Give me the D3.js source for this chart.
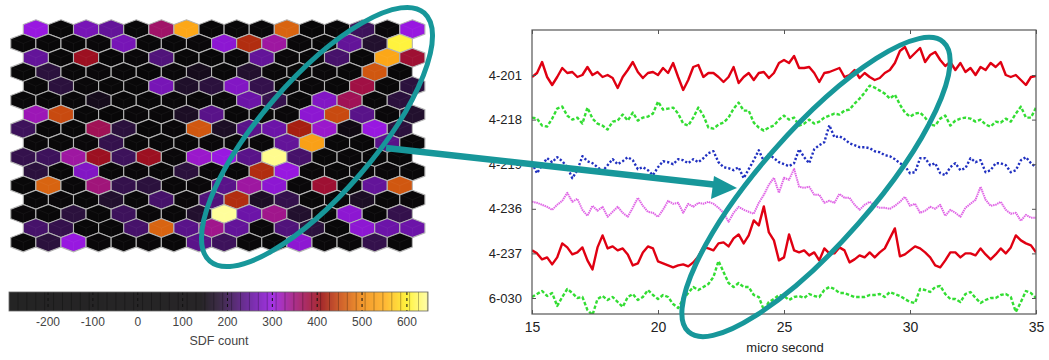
<!DOCTYPE html>
<html>
<head>
<meta charset="utf-8">
<script src="https://cdn.jsdelivr.net/npm/d3@7"></script>
<style>
  body { margin: 0; background: #fff; }
  svg { display: block; font-family: "Liberation Sans", Arial, sans-serif; }
</style>
</head>
<body>
<div id="chart"></div>
<script>
// SDF count per hex cell, 16 rows x 16 columns (first row sits half a cell to the right)
const sdfRows = [
  [300, -40, 270, 250, 60, 360, 540, -120, 30, 90, 470, -80, 40, 210, 110, 300],
  [-20, 50, -150, 80, 270, 10, -60, 100, 290, 430, 330, 70, -30, 250, 180, 610],
  [250, 40, 400, -90, 120, 230, 20, -200, 60, 250, 90, -10, 220, 30, 540, 390],
  [60, 190, -30, 100, 20, -110, 80, 160, 40, 180, 130, -50, 90, 10, 460, -70],
  [-60, 190, 70, 20, -20, 270, 175, 190, 280, 200, 50, 110, -40, 380, 60, 190],
  [30, -80, 120, 160, 40, -30, 100, 10, 80, 260, 200, 60, 280, 370, 40, 190],
  [320, 450, 20, -100, 80, 120, 170, 240, 30, -60, 110, 290, 450, 240, 90, 180],
  [210, 60, -40, 370, 190, 30, 100, 460, 170, 240, 260, 420, 310, 150, 300, 190],
  [80, -20, 110, 200, 40, -70, 60, 130, 10, 90, 250, 530, 50, -30, 240, 70],
  [200, 210, 330, 400, 210, 400, 90, 310, 300, 240, 640, 220, 40, 120, -50, 60],
  [190, 20, 280, -60, 100, 50, 190, 80, 30, 430, 300, 110, -20, 70, 130, 20],
  [40, 470, 90, 350, 200, 190, 60, 120, 240, 330, 290, 70, 390, 100, 250, 460],
  [-30, 110, 50, 180, 20, 220, 90, 230, 430, 170, 200, 60, -90, 170, 40, 100],
  [70, -10, 190, 40, 210, 120, 30, 180, 645, 260, 340, 180, 80, 290, 20, 200],
  [220, 200, 60, -40, 220, 470, 240, 340, 250, 110, 230, 190, 50, 290, 260, 260],
  [20, 190, 300, 80, -20, 130, 60, 240, 210, 100, 30, 290, 120, 70, 200, 40]
];

// colour map of the SDF count (black -> purple -> red -> orange -> yellow)
const colorDomain = [-290, 140, 180, 220, 260, 300, 340, 380, 410, 450, 500, 550, 600, 650];
const colorRange = ['#070707', '#0a080a', '#22102e', '#46126a', '#6c14a8', '#9818e0', '#a0168c',
                    '#a01044', '#9a1010', '#c84a10', '#f08a12', '#ffae1a', '#fff024', '#ffffa8'];
const colorTicks = [-200, -100, 0, 100, 200, 300, 400, 500, 600];

// traces: one sample every 0.2 micro second from 15 to 35
const channels = ['4-201', '4-218', '4-219', '4-236', '4-237', '6-030'];
const channelOffsets = [223, 178.4, 133.8, 89.2, 44.6, 0];
const timeTicks = [15, 20, 25, 30, 35];
const times = d3.range(101).map(i => +(15 + i * 0.2).toFixed(1));

const sig4201 = [
  -2, 2, 13, -2, -10, -2, 7, 2, 3, -2,
  0, 8, 0, 3, -2, 0, -3, -13, -2, 5,
  13, 3, -3, 2, 3, 0, 7, 2, 12, -2,
  -15, -5, 8, 10, -2, 2, 2, -2, -7, -2,
  8, -8, -2, 2, -5, 2, 3, -3, 2, 12,
  15, 12, 19, 7, 7, 8, 2, -7, 2, 3,
  5, 7, -2, 0, 5, -3, 2, -2, -5, -3,
  2, 5, 12, 24, 28, 17, 22, 27, 13, 20,
  23, 15, 9, 13, 5, 12, 3, 7, 0, 8,
  5, 12, 8, 13, 0, -2, 0, -5, -10, -2,
  -1];
const sig4218 = [
  2, 1, -6, -7, 1, 11, 13, 4, 0, 2,
  -4, 12, 1, -4, -6, -10, -2, -1, 5, -1,
  7, -1, 2, 3, 6, 18, 10, 11, 12, 6,
  -4, -6, 2, 12, 4, -8, -9, -5, -3, 2,
  11, 17, 9, 9, -3, -8, -11, -8, -6, 0,
  4, 0, 2, -6, -4, 0, -4, -2, 2, 4,
  6, 5, 9, 10, 16, 21, 27, 34, 32, 29,
  26, 21, 25, 15, 7, 3, 6, 7, 2, -5,
  -6, 1, 4, -6, -1, 1, 2, 1, -2, 0,
  -5, -7, -2, -3, 1, -2, 6, 13, 2, 2,
  12];
const sig4219 = [
  1, -9, -1, 6, 2, 7, 3, -3, -14, -6,
  8, 3, 1, -3, -7, -1, 5, 0, 3, 7,
  4, -5, -3, -6, -11, -3, 3, 2, 0, 5,
  4, 1, 5, 2, 6, 11, 13, 2, -3, -4,
  -6, -3, -14, -5, 4, 14, 3, 10, 6, 2,
  0, -2, 1, 15, 7, 1, 15, 19, 22, 39,
  27, 28, 25, 21, 19, 17, 17, 16, 13, 12,
  9, 8, 5, 1, -2, -9, -8, 6, 6, -1,
  1, -9, -11, -3, 1, -6, -4, 6, 2, 4,
  -8, -6, 1, 1, -1, -8, -6, 4, 7, 1,
  -3];
const sig4236 = [
  7, 6, 4, 2, -1, 4, 8, 16, 7, 10,
  -1, -7, 3, -2, 2, -8, -3, 2, -4, -8,
  1, 11, 3, -3, -4, -8, -1, 8, 5, 6,
  -4, 5, 2, 6, 5, 7, 5, 1, -4, -13,
  -4, 2, -1, -3, -5, 6, 14, 24, 31, 16,
  31, 29, 40, 22, 21, 22, 14, 14, 6, 8,
  6, 15, 11, 11, 4, -1, 4, 7, 3, 1,
  1, 0, 3, 7, 12, 3, 5, -4, -2, 2,
  0, 4, -7, -1, -4, -8, 1, 5, 9, 22,
  9, 3, 4, 7, -1, -5, -4, -12, -6, -9,
  -9];
const sig4237 = [
  3, 0, -6, -4, -11, -4, 10, 6, -1, 1,
  6, -7, -16, 6, 18, 5, 7, 3, 5, -1,
  -12, -10, 1, 7, 5, -8, -10, -12, -14, -12,
  -11, -13, -9, -3, 6, 5, 3, 10, 11, 7,
  15, 19, 10, 18, 33, 28, 47, 21, 13, -7,
  -4, 19, 3, 1, 3, -2, 1, -7, 5, 0,
  0, 6, 3, -9, -6, -2, -4, 1, -4, 1,
  5, 15, 25, -3, -1, 3, 7, 5, 1, -4,
  -12, -14, -7, 1, 1, -4, 0, 0, -2, 5,
  -1, -6, -1, 5, 0, 6, 18, 13, 10, 8,
  1];
const sig6030 = [
  1, 4, 7, 2, 5, -8, 1, 9, 5, 0,
  1, -12, -17, -1, 2, -2, 1, -4, -9, 1,
  4, -2, 1, 8, 3, -1, 3, 1, -6, -10,
  -1, 5, 11, 8, 11, 14, 21, 37, 26, 15,
  11, 15, 11, 11, 3, 1, -12, -4, -1, 3,
  2, -2, 1, 2, 0, 4, 2, 1, 8, 11,
  9, 5, 5, 3, 1, 1, 1, 3, 3, 4,
  1, 6, 4, 2, -1, -4, -5, 9, 8, 6,
  11, 12, 4, -1, -1, -4, 4, 6, 0, -5,
  -2, 0, 0, 3, 4, 1, -14, -4, 7, 5,
  0];
const signals = [sig4201, sig4218, sig4219, sig4236, sig4237, sig6030];

const W = 1049, H = 360;
const teal = '#17979a';

const svg = d3.select('#chart').append('svg')
  .attr('width', W).attr('height', H);

// ---------- hex map ----------
const color = d3.scaleLinear().domain(colorDomain).range(colorRange).clamp(true);

const hexW = 25.1, hexH = 19;
const hexX = d3.scaleLinear().domain([0, 15.5]).range([23.3, 412.35]);
const hexY = d3.scaleLinear().domain([0, 15]).range([29.3, 242.3]);
const hexPoints = [[0, -hexH / 2], [hexW / 2, -hexH / 4], [hexW / 2, hexH / 4],
                   [0, hexH / 2], [-hexW / 2, hexH / 4], [-hexW / 2, -hexH / 4]];

const cells = [];
sdfRows.forEach((row, r) => row.forEach((v, c) => {
  cells.push({ r, c, v, shift: r % 2 === 0 ? 0.5 : 0 });
}));

const hexG = svg.append('g');
const hex = hexG.selectAll('g.hex')
  .data(cells)
  .join('g')
  .attr('class', 'hex')
  .attr('transform', d => `translate(${hexX(d.c + d.shift)},${hexY(d.r)})`);

hex.append('polygon')
  .attr('points', hexPoints.map(p => p.join(',')).join(' '))
  .attr('fill', d => color(d.v))
  .attr('stroke', '#b4b4b4')
  .attr('stroke-width', 1.1);

// faint bevel lines inside each cell
hex.append('path')
  .attr('d', `M0,0V${hexH / 2 - 1}M0,0L${-hexW / 2 + 1},${-hexH / 4}M0,0L${hexW / 2 - 1},${-hexH / 4}`)
  .attr('stroke', 'rgba(255,255,255,0.045)')
  .attr('stroke-width', 1)
  .attr('fill', 'none');

// ---------- colour bar ----------
const cbX = d3.scaleLinear().domain([-287, 647]).range([9, 428]);
const cbTop = 292, cbH = 19;
const cbG = svg.append('g');
const cbSteps = d3.range(cbX.range()[0], cbX.range()[1], 1);
cbG.selectAll('rect.cb')
  .data(cbSteps)
  .join('rect')
  .attr('class', 'cb')
  .attr('x', d => d)
  .attr('y', cbTop)
  .attr('width', 1.2)
  .attr('height', cbH)
  .attr('fill', d => color(cbX.invert(d + 0.5)))
  .attr('opacity', 0.86);

// cell seams of the bar
cbG.selectAll('line.seam')
  .data(d3.range(cbX.range()[0] + 9, cbX.range()[1], 8.9))
  .join('line')
  .attr('class', 'seam')
  .attr('x1', d => d).attr('x2', d => d)
  .attr('y1', cbTop).attr('y2', cbTop + cbH)
  .attr('stroke', 'rgba(0,0,0,0.28)')
  .attr('stroke-width', 1);

cbG.selectAll('line.tick')
  .data(colorTicks)
  .join('line')
  .attr('class', 'tick')
  .attr('x1', d => cbX(d)).attr('x2', d => cbX(d))
  .attr('y1', cbTop).attr('y2', cbTop + cbH)
  .attr('stroke', '#111')
  .attr('stroke-width', 1)
  .attr('stroke-dasharray', '3,3');

cbG.append('rect')
  .attr('x', 9).attr('y', cbTop)
  .attr('width', 419).attr('height', cbH)
  .attr('fill', 'none')
  .attr('stroke', '#666')
  .attr('stroke-width', 0.8);

cbG.selectAll('text.cbl')
  .data(colorTicks)
  .join('text')
  .attr('class', 'cbl')
  .attr('x', d => cbX(d))
  .attr('y', 326)
  .attr('text-anchor', 'middle')
  .attr('font-size', 12)
  .attr('fill', '#444')
  .text(d => d);

cbG.append('text')
  .attr('x', 219).attr('y', 345)
  .attr('text-anchor', 'middle')
  .attr('font-size', 12.5)
  .attr('fill', '#444')
  .text('SDF count');

// ---------- traces ----------
const x = d3.scaleLinear().domain([15, 35]).range([532, 1036]);
const y = d3.scaleLinear().domain([-16, 268]).range([314, 30]);

const styles = [
  { color: '#e00012', dash: null, width: 2.4 },
  { color: '#33dd33', dash: '3.5,2', width: 2.4 },
  { color: '#2030c0', dash: '2.2,2', width: 2.4 },
  { color: '#e066e6', dash: '1.5,0.7', width: 2.0 },
  { color: '#e00012', dash: null, width: 2.4 },
  { color: '#33dd33', dash: '3.5,2', width: 2.4 }
];

svg.append('clipPath').attr('id', 'plotClip')
  .append('rect')
  .attr('x', 532).attr('y', 30)
  .attr('width', 504).attr('height', 284);

const plotG = svg.append('g').attr('clip-path', 'url(#plotClip)');
const line = d3.line()
  .x((d, i) => x(times[i]))
  .y(d => y(d.off + d.v));

signals.forEach((sig, k) => {
  const pts = sig.map(v => ({ v, off: channelOffsets[k] }));
  plotG.append('path')
    .datum(pts)
    .attr('d', line)
    .attr('fill', 'none')
    .attr('stroke', styles[k].color)
    .attr('stroke-width', styles[k].width)
    .attr('stroke-linejoin', 'round')
    .attr('stroke-dasharray', styles[k].dash);
});

// axes, ticks pointing inward
const axisColor = '#555';
const axBottom = svg.append('g').attr('transform', 'translate(0,314)')
  .call(d3.axisBottom(x).tickValues(timeTicks).tickSize(-4).tickSizeOuter(0).tickPadding(8));
const axTop = svg.append('g').attr('transform', 'translate(0,30)')
  .call(d3.axisTop(x).tickValues(timeTicks).tickSize(-4).tickSizeOuter(0).tickFormat(''));
const axLeft = svg.append('g').attr('transform', 'translate(532,0)')
  .call(d3.axisLeft(y).tickValues(channelOffsets).tickSize(-4).tickSizeOuter(0).tickPadding(10)
    .tickFormat((d, i) => channels[i]));
const axRight = svg.append('g').attr('transform', 'translate(1036,0)')
  .call(d3.axisRight(y).tickValues(channelOffsets).tickSize(-4).tickSizeOuter(0).tickFormat(''));

[axBottom, axTop, axLeft, axRight].forEach(g => {
  g.select('.domain').remove();
  g.selectAll('line').attr('stroke', axisColor);
  g.selectAll('text').attr('font-size', 13).attr('fill', '#222')
    .attr('font-family', '"Liberation Sans", Arial, sans-serif');
});
axBottom.selectAll('text').attr('font-size', 14);

svg.append('rect')
  .attr('x', 532).attr('y', 30)
  .attr('width', 504).attr('height', 284)
  .attr('fill', 'none')
  .attr('stroke', axisColor)
  .attr('stroke-width', 1.2);

svg.append('text')
  .attr('x', 785).attr('y', 352)
  .attr('text-anchor', 'middle')
  .attr('font-size', 13)
  .attr('fill', '#222')
  .text('micro second');

// ---------- annotations ----------
const ann = svg.append('g').attr('fill', 'none').attr('stroke', teal).attr('stroke-width', 5);
ann.append('ellipse')
  .attr('cx', 317).attr('cy', 137).attr('rx', 164).attr('ry', 57)
  .attr('transform', 'rotate(-49.2,317,137)');
ann.append('ellipse')
  .attr('cx', 816).attr('cy', 187).attr('rx', 193).attr('ry', 56)
  .attr('transform', 'rotate(-48.7,816,187)');

// arrow from the map to the traces
ann.append('line')
  .attr('x1', 386).attr('y1', 148)
  .attr('x2', 718).attr('y2', 185)
  .attr('stroke-width', 6.5);
svg.append('polygon')
  .attr('points', '737,188 714,176 711,199')
  .attr('fill', teal);
</script>
</body>
</html>
